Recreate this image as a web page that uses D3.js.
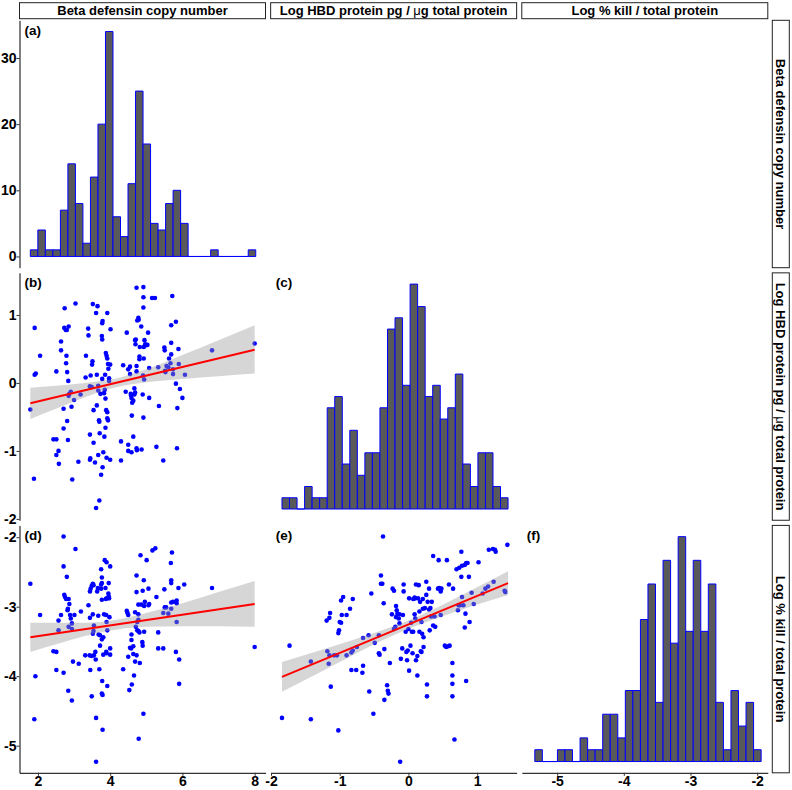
<!DOCTYPE html>
<html>
<head>
<meta charset="utf-8">
<script src="https://cdn.jsdelivr.net/npm/d3@7"></script>
<style>
body { margin: 0; background: #fff; }
text { font-family: "Liberation Sans", Arial, sans-serif; }
</style>
</head>
<body>
<div id="chart"></div>
<script>
// variable names (strip labels) and panel tags
const varNames = ["Beta defensin copy number", "Log HBD protein pg / \u03bcg total protein", "Log % kill / total protein"];
const panelTags = ["(a)", "(b)", "(c)", "(d)", "(e)", "(f)"];

// tick labels
const copyTicks = [2, 4, 6, 8];
const hbdTicks = [-2, -1, 0, 1];
const killTicks = [-5, -4, -3, -2];
const countTicks = [0, 10, 20, 30];

// axis limits
const copyDomain = [1.49, 8.30];
const hbdDomainX = [-2.005, 1.575];
const killDomainX = [-5.53, -1.84];
const hbdDomainY = [-2.02, 1.62];
const killDomainY = [-5.39, -1.83];

// histogram counts (30 bins spanning the data range)
const copyRange = [1.79, 8.03];
const copyCounts = [1, 4, 1, 1, 7, 14, 8, 2, 12, 20, 34, 6, 3, 11, 25, 17, 5, 4, 8, 10, 5, 0, 0, 0, 1, 0, 0, 0, 0, 1];
const hbdRange = [-1.84, 1.45];
const hbdCounts = [1, 1, 0, 2, 1, 1, 9, 10, 4, 7, 3, 5, 5, 9, 16, 17, 11, 20, 18, 10, 11, 8, 9, 12, 4, 2, 5, 5, 2, 1];
const killRange = [-5.335, -1.94];
const killCounts = [1, 0, 0, 1, 1, 0, 2, 1, 1, 4, 4, 2, 6, 6, 12, 15, 5, 17, 10, 19, 11, 17, 11, 15, 5, 1, 6, 3, 5, 1];

// scatter points: [x, y]
const copyVsHbd = [[1.79,-0.39],[1.91,0.81],[1.91,0.12],[1.94,0.14],[2.06,0.40],[1.89,-1.41],[2.43,-0.83],[2.51,-0.83],[2.51,-1.06],[2.57,-1.0],[2.58,-1.19],[2.51,0.17],[2.64,0.61],[2.64,0.48],[2.74,1.10],[2.73,0.81],[2.77,0.78],[2.80,0.78],[2.85,0.83],[2.71,-0.38],[2.71,-0.67],[2.79,0.40],[2.78,0.29],[2.81,0.16],[2.84,0.03],[2.85,-0.19],[2.87,-0.16],[2.91,-0.13],[2.93,-0.35],[2.81,-0.56],[2.83,-0.84],[2.95,-1.42],[3.04,1.17],[3.00,-0.25],[3.12,-1.16],[3.18,-0.17],[3.32,0.08],[3.33,0.40],[3.39,0.80],[3.40,0.70],[3.44,-0.76],[3.45,-1.11],[3.44,-1.13],[3.52,1.16],[3.51,0.32],[3.50,0.27],[3.44,-0.05],[3.49,-0.06],[3.46,0.11],[3.54,-0.40],[3.54,-0.88],[3.58,-1.17],[3.61,1.03],[3.63,0.12],[3.65,1.13],[3.67,-0.04],[3.67,-0.11],[3.63,-0.33],[3.61,-1.84],[3.70,-1.73],[3.67,-1.06],[3.70,-0.57],[3.69,-0.55],[3.71,-0.74],[3.73,-0.16],[3.77,0.69],[3.78,0.64],[3.78,0.88],[3.79,0.91],[3.78,0.06],[3.75,-1.35],[3.79,-1.24],[3.81,-1.02],[3.83,-0.15],[3.85,-0.10],[3.86,0.12],[3.84,-0.79],[3.87,-0.23],[3.89,-0.40],[3.87,-0.66],[3.88,0.44],[3.90,0.40],[3.92,0.36],[3.92,1.03],[3.94,0.28],[3.95,0.21],[3.97,0.07],[3.97,0.03],[3.92,-0.43],[3.92,-0.52],[3.94,-0.55],[4.00,-1.13],[4.00,0.27],[4.01,0.79],[3.90,-1.10],[4.30,-1.14],[4.30,-0.86],[4.36,0.26],[4.43,-0.13],[4.46,0.74],[4.50,-0.91],[4.50,-1.0],[4.50,0.20],[4.55,0.24],[4.55,0.13],[4.57,-0.16],[4.58,-0.18],[4.59,-0.22],[4.60,-0.48],[4.61,-0.29],[4.59,-1.02],[4.64,-0.79],[4.64,-0.26],[4.67,-0.08],[4.67,-0.17],[4.69,-0.14],[4.70,0.57],[4.69,0.63],[4.71,0.64],[4.73,0.17],[4.73,0.25],[4.74,-0.99],[4.73,-0.96],[4.75,0.92],[4.79,0.93],[4.78,0.96],[4.81,0.35],[4.81,0.39],[4.73,1.40],[4.82,0.53],[4.86,0.83],[4.87,-0.98],[4.90,-0.17],[4.91,0.11],[4.92,-0.51],[4.92,1.26],[4.92,1.11],[4.93,0.53],[4.95,0.63],[4.97,0.55],[4.93,0.36],[4.94,0.05],[4.92,1.41],[4.97,0.57],[5.03,0.56],[5.05,0.74],[5.08,-0.22],[5.08,0.22],[5.16,1.25],[5.24,1.25],[5.28,-0.94],[5.33,0.23],[5.35,-0.34],[5.47,-1.14],[5.50,0.52],[5.51,0.48],[5.52,0.18],[5.53,0.16],[5.56,0.25],[5.61,0.23],[5.63,0.36],[5.67,0.29],[5.69,0.59],[5.69,0.85],[5.72,1.28],[5.69,0.42],[5.74,0.20],[5.74,0.13],[5.82,-0.01],[5.82,0.90],[5.86,-0.37],[5.85,-0.96],[5.90,0.28],[5.89,0.50],[5.93,-0.09],[6.00,-0.22],[6.07,0.12],[6.82,0.48],[8.0,0.58]];

const copyVsKill = [[1.79,-2.67],[2.06,-3.12],[1.93,-4.0],[1.90,-4.62],[2.43,-3.64],[2.51,-3.65],[2.51,-3.91],[2.57,-3.20],[2.57,-3.34],[2.64,-3.12],[2.71,-1.99],[2.71,-2.42],[2.73,-2.83],[2.75,-2.86],[2.78,-2.89],[2.80,-2.57],[2.85,-2.89],[2.83,-3.03],[2.82,-3.05],[2.85,-3.29],[2.89,-3.12],[2.91,-3.17],[2.94,-3.24],[2.94,-3.32],[2.84,-4.21],[2.71,-3.95],[2.94,-4.35],[2.97,-3.79],[2.87,-2.96],[3.01,-3.12],[3.04,-2.17],[3.13,-3.82],[3.19,-3.07],[3.31,-3.70],[3.40,-2.98],[3.44,-3.16],[3.44,-2.78],[3.46,-2.74],[3.49,-2.70],[3.52,-2.67],[3.54,-2.69],[3.45,-3.91],[3.43,-3.70],[3.49,-3.71],[3.49,-4.29],[3.52,-3.39],[3.52,-3.11],[3.55,-3.27],[3.54,-3.35],[3.55,-3.70],[3.59,-3.65],[3.60,-3.76],[3.61,-4.60],[3.61,-5.23],[3.64,-2.78],[3.66,-2.73],[3.67,-3.13],[3.68,-3.40],[3.70,-3.90],[3.72,-3.41],[3.72,-3.56],[3.75,-2.74],[3.75,-2.68],[3.77,-2.66],[3.77,-2.90],[3.75,-2.46],[3.77,-2.58],[3.77,-3.47],[3.78,-4.07],[3.77,-4.25],[3.79,-4.27],[3.79,-4.77],[3.81,-3.44],[3.81,-3.69],[3.83,-3.11],[3.85,-2.33],[3.87,-2.73],[3.88,-2.89],[3.89,-3.12],[3.89,-3.65],[3.90,-3.67],[3.90,-2.36],[3.90,-2.88],[3.90,-3.22],[3.92,-3.34],[3.95,-2.81],[3.96,-2.85],[3.97,-2.88],[3.96,-2.66],[3.98,-3.15],[4.00,-2.42],[4.00,-3.60],[4.00,-3.69],[3.92,-4.14],[4.36,-3.90],[4.46,-3.06],[4.48,-3.09],[4.50,-3.72],[4.50,-3.12],[4.53,-4.20],[4.55,-3.59],[4.58,-3.60],[4.59,-3.48],[4.59,-3.40],[4.60,-4.12],[4.64,-3.57],[4.64,-3.68],[4.66,-3.99],[4.69,-3.79],[4.69,-3.08],[4.71,-3.29],[4.73,-2.55],[4.73,-2.79],[4.75,-3.22],[4.75,-3.34],[4.73,-3.70],[4.78,-3.11],[4.78,-3.19],[4.78,-3.35],[4.78,-2.97],[4.81,-3.37],[4.79,-4.90],[4.82,-3.81],[4.84,-2.26],[4.86,-2.97],[4.89,-3.51],[4.90,-3.56],[4.90,-2.77],[4.92,-4.54],[4.93,-2.62],[4.94,-3.36],[4.94,-2.99],[4.96,-2.93],[5.01,-2.33],[5.06,-2.98],[5.06,-2.74],[5.08,-2.96],[5.17,-2.19],[5.25,-2.16],[5.28,-2.86],[5.33,-3.60],[5.33,-3.37],[5.47,-3.60],[5.50,-2.75],[5.51,-3.01],[5.55,-3.01],[5.47,-3.09],[5.61,-3.10],[5.69,-2.62],[5.69,-2.66],[5.68,-2.37],[5.71,-2.22],[5.69,-2.94],[5.69,-3.03],[5.74,-2.93],[5.82,-3.65],[5.84,-2.91],[5.84,-2.95],[5.84,-3.22],[5.89,-2.73],[5.91,-3.76],[5.91,-4.11],[6.05,-2.68],[6.82,-2.73],[8.0,-3.58]];

const hbdVsKill = [[-1.84,-4.60],[-1.73,-3.56],[-1.42,-4.62],[-1.42,-3.79],[-1.18,-3.64],[-1.16,-3.82],[-1.15,-3.70],[-1.13,-4.15],[-1.19,-3.20],[-1.15,-3.16],[-1.14,-3.09],[-1.08,-3.70],[-1.04,-3.70],[-1.02,-3.38],[-1.01,-3.34],[-1.00,-3.22],[-0.98,-3.23],[-1.02,-4.78],[-0.98,-2.91],[-0.95,-2.86],[-0.97,-3.12],[-0.90,-3.12],[-0.90,-3.70],[-0.85,-3.03],[-0.83,-3.66],[-0.83,-3.91],[-0.81,-2.89],[-0.81,-3.63],[-0.76,-3.91],[-0.75,-3.58],[-0.67,-3.95],[-0.66,-3.85],[-0.66,-3.45],[-0.58,-3.41],[-0.57,-4.22],[-0.54,-2.81],[-0.51,-4.54],[-0.49,-3.52],[-0.43,-3.67],[-0.43,-3.41],[-0.42,-3.69],[-0.40,-2.55],[-0.40,-2.67],[-0.38,-2.67],[-0.36,-2.95],[-0.37,-1.99],[-0.35,-4.34],[-0.35,-3.61],[-0.31,-4.13],[-0.30,-4.21],[-0.29,-4.25],[-0.27,-3.81],[-0.24,-3.11],[-0.23,-2.74],[-0.21,-2.77],[-0.21,-3.32],[-0.19,-3.29],[-0.18,-3.15],[-0.18,-2.99],[-0.17,-3.05],[-0.16,-3.10],[-0.14,-3.17],[-0.13,-3.11],[-0.13,-3.24],[-0.12,-5.23],[-0.11,-3.75],[-0.09,-3.60],[-0.08,-3.12],[-0.07,-2.68],[-0.07,-2.78],[-0.04,-3.36],[-0.03,-3.65],[-0.02,-3.77],[-0.01,-3.63],[0.00,-3.32],[0.01,-2.88],[0.01,-3.92],[0.03,-3.56],[0.04,-3.23],[0.05,-3.36],[0.06,-3.67],[0.07,-3.36],[0.07,-2.89],[0.09,-2.87],[0.09,-3.11],[0.10,-2.88],[0.10,-3.17],[0.11,-2.68],[0.11,-3.77],[0.13,-3.71],[0.13,-3.99],[0.14,-2.88],[0.15,-2.69],[0.16,-3.36],[0.16,-3.07],[0.17,-2.93],[0.18,-3.64],[0.19,-3.65],[0.19,-3.22],[0.20,-3.39],[0.21,-2.89],[0.21,-3.03],[0.22,-3.44],[0.22,-3.58],[0.24,-3.02],[0.26,-2.64],[0.26,-2.83],[0.27,-4.12],[0.27,-4.29],[0.28,-2.93],[0.30,-3.04],[0.30,-2.74],[0.31,-3.34],[0.32,-3.02],[0.33,-3.14],[0.34,-2.93],[0.36,-2.27],[0.36,-3.27],[0.38,-3.14],[0.39,-3.29],[0.43,-2.74],[0.44,-2.33],[0.45,-2.73],[0.47,-2.78],[0.47,-3.12],[0.48,-2.74],[0.53,-3.56],[0.55,-3.58],[0.56,-2.33],[0.58,-3.57],[0.59,-2.68],[0.60,-3.56],[0.64,-3.81],[0.65,-2.74],[0.64,-3.99],[0.64,-4.11],[0.64,-4.29],[0.67,-4.91],[0.70,-2.46],[0.72,-3.05],[0.73,-2.98],[0.74,-2.44],[0.75,-2.98],[0.77,-2.21],[0.77,-2.57],[0.78,-2.86],[0.78,-2.41],[0.80,-2.98],[0.82,-2.40],[0.82,-3.30],[0.83,-3.10],[0.84,-2.37],[0.84,-4.07],[0.86,-2.37],[0.88,-2.57],[0.89,-3.22],[0.92,-2.80],[0.95,-2.96],[1.02,-2.36],[1.08,-2.81],[1.12,-2.74],[1.16,-2.71],[1.17,-2.18],[1.23,-2.17],[1.24,-2.64],[1.26,-2.18],[1.27,-2.21],[1.40,-2.77],[1.41,-2.79],[1.44,-2.11]];

// linear fits: end points of the red line, and the grey confidence band
const fitB = [[1.79, -0.30], [8.0, 0.49]];
const bandBx = [1.79, 2.5, 3.3, 4.2, 5.0, 6.0, 7.0, 8.0];
const bandBlo = [-0.53, -0.38, -0.21, -0.06, 0.01, 0.06, 0.10, 0.14];
const bandBhi = [-0.07, -0.04, 0.00, 0.07, 0.20, 0.41, 0.63, 0.85];

const fitD = [[1.79, -3.44], [8.0, -2.96]];
const bandDx = [1.79, 2.5, 3.3, 4.15, 5.0, 6.0, 7.0, 8.0];
const bandDlo = [-3.65, -3.54, -3.42, -3.33, -3.29, -3.28, -3.28, -3.29];
const bandDhi = [-3.23, -3.23, -3.23, -3.19, -3.09, -2.95, -2.79, -2.63];

const fitE = [[-1.84, -4.01], [1.45, -2.66]];
const bandEx = [-1.84, -1.2, -0.6, 0.02, 0.6, 1.0, 1.45];
const bandElo = [-4.225, -3.90, -3.59, -3.31, -3.10, -2.97, -2.83];
const bandEhi = [-3.795, -3.60, -3.41, -3.19, -2.92, -2.72, -2.49];

// layout
const svgWidth = 792, svgHeight = 790;
const padLeft = 19.5, padTop = 20.3, pw = 246, ph = 247.4, gap = 5.15;
const colX = i => padLeft + i * (pw + gap);
const rowY = j => padTop + j * (ph + gap);

const svg = d3.select("#chart")
    .append("svg")
    .attr("width", svgWidth)
    .attr("height", svgHeight);

// the greek mu is set in a plain symbol face
function addLabel(t, name) {
    name.split(/(\u03bc)/).forEach(part => {
        if (!part) return;
        t.append("tspan")
            .style("font-weight", part === "\u03bc" ? "normal" : "bold")
            .text(part);
    });
}

// scales for each column / row
const xCol = [copyDomain, hbdDomainX, killDomainX].map((d, i) =>
    d3.scaleLinear().domain(d).range([colX(i), colX(i) + pw]));
const yRow = [null, hbdDomainY, killDomainY].map((d, j) =>
    d ? d3.scaleLinear().domain(d).range([rowY(j) + ph, rowY(j)]) : null);

// histogram on the diagonal
function drawHist(i, counts, range) {
    const x = xCol[i];
    const maxC = d3.max(counts);
    const y = d3.scaleLinear().domain([-0.05 * maxC, 1.05 * maxC]).range([rowY(i) + ph, rowY(i)]);
    const bw = (range[1] - range[0]) / counts.length;
    svg.append("g").selectAll("path")
        .data(counts)
        .join("path")
        .attr("d", (c, k) => {
            const x0 = x(range[0] + k * bw), x1 = x(range[0] + (k + 1) * bw);
            return `M${x0},${y(0)}V${y(c)}H${x1}V${y(0)}Z`;
        })
        .attr("fill", "#595959")
        .attr("stroke", "blue")
        .attr("stroke-width", 1);
    return y;
}

const countY = drawHist(0, copyCounts, copyRange);
drawHist(1, hbdCounts, hbdRange);
drawHist(2, killCounts, killRange);

// scatter panels with fitted line
function drawScatter(i, j, pts, fit, bx, blo, bhi) {
    const x = xCol[i], y = yRow[j];
    const g = svg.append("g");
    g.selectAll("circle")
        .data(pts)
        .join("circle")
        .attr("cx", d => x(d[0]))
        .attr("cy", d => y(d[1]))
        .attr("r", 2.3)
        .attr("fill", "blue");
    const band = bx.map((v, k) => ({ x: v, lo: blo[k], hi: bhi[k] }));
    g.append("path")
        .datum(band)
        .attr("d", d3.area().x(d => x(d.x)).y0(d => y(d.lo)).y1(d => y(d.hi)).curve(d3.curveMonotoneX))
        .attr("fill", "#999999")
        .attr("fill-opacity", 0.4);
    g.append("path")
        .datum(fit)
        .attr("d", d3.line().x(d => x(d[0])).y(d => y(d[1])))
        .attr("stroke", "red")
        .attr("stroke-width", 2)
        .attr("fill", "none");
}

drawScatter(0, 1, copyVsHbd, fitB, bandBx, bandBlo, bandBhi);
drawScatter(0, 2, copyVsKill, fitD, bandDx, bandDlo, bandDhi);
drawScatter(1, 2, hbdVsKill, fitE, bandEx, bandElo, bandEhi);

// panel tags
const tagPos = [[0, 0], [0, 1], [1, 1], [0, 2], [1, 2], [2, 2]];
svg.selectAll("text.tag")
    .data(panelTags)
    .join("text")
    .attr("class", "tag")
    .attr("x", (d, k) => colX(tagPos[k][0]) + 5)
    .attr("y", (d, k) => rowY(tagPos[k][1]) + 14.5)
    .style("font-size", "13.5px")
    .style("font-weight", "bold")
    .text(d => d);

// axes
function styleAxis(g) {
    g.selectAll("text")
        .attr("fill", "#000")
        .style("font-family", "\"Liberation Sans\", Arial, sans-serif")
        .style("font-size", "14px")
        .style("font-weight", "bold");
    g.selectAll("line").attr("stroke", "#333");
    g.select(".domain").attr("stroke", "#000");
}

// plain hyphen for negative labels, as in the original
const fmt = d => String(d);

const yAxes = [
    d3.axisLeft(countY).tickValues(countTicks),
    d3.axisLeft(yRow[1]).tickValues(hbdTicks),
    d3.axisLeft(yRow[2]).tickValues(killTicks)
];
yAxes.forEach(ax => {
    svg.append("g")
        .attr("transform", `translate(${padLeft},0)`)
        .call(ax.tickSize(3).tickSizeOuter(0).tickPadding(0).tickFormat(fmt))
        .call(styleAxis);
});

const xTicks = [copyTicks, hbdTicks, killTicks];
xCol.forEach((x, i) => {
    svg.append("g")
        .attr("transform", `translate(0,${rowY(2) + ph})`)
        .call(d3.axisBottom(x).tickValues(xTicks[i]).tickSize(3).tickSizeOuter(0).tickPadding(0).tickFormat(fmt))
        .call(styleAxis);
});

// strips on top
varNames.forEach((name, i) => {
    svg.append("rect")
        .attr("x", colX(i)).attr("y", 2.7)
        .attr("width", pw).attr("height", 16)
        .attr("fill", "#fff").attr("stroke", "#222").attr("stroke-width", 1);
    const t = svg.append("text")
        .attr("x", colX(i) + pw / 2).attr("y", 15.3)
        .attr("text-anchor", "middle")
        .style("font-size", "13px");
    addLabel(t, name);
});

// strips on the right
const sx = colX(2) + pw + 4.5, sw = 17;
varNames.forEach((name, j) => {
    svg.append("rect")
        .attr("x", sx).attr("y", rowY(j))
        .attr("width", sw).attr("height", ph)
        .attr("fill", "#fff").attr("stroke", "#222").attr("stroke-width", 1);
    const t = svg.append("text")
        .attr("transform", `translate(${sx + sw / 2},${rowY(j) + ph / 2}) rotate(90)`)
        .attr("y", 4.6)
        .attr("text-anchor", "middle")
        .style("font-size", "13px");
    addLabel(t, name);
});
</script>
</body>
</html>
